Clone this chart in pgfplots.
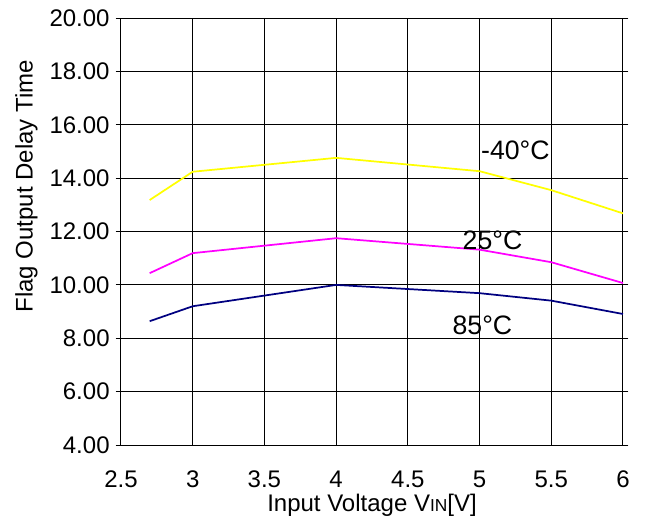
\documentclass[border=0pt]{standalone}
\usepackage{pgfplots}
\pgfplotsset{compat=1.18}
\usepackage{fontspec}
\setmainfont{Liberation Sans}
\definecolor{navyc}{RGB}{0,0,128}
\begin{document}
\begin{tikzpicture}
\begin{axis}[
  scale only axis,
  width=376.5pt, height=320.25pt,
  xmin=2.5, xmax=6, ymin=4, ymax=20,
  xtick={2.5,3,3.5,4,4.5,5,5.5,6},
  ytick={4,6,8,10,12,14,16,18,20},
  grid=major,
  grid style={black, line width=0.75pt},
  axis line style={black, line width=0.75pt},
  x tick style={draw=none},
  y tick style={black, line width=0.75pt},
  tick align=outside,
  major tick length=4pt,
  font=\fontsize{18}{21}\selectfont,
  /pgf/number format/assume math mode=true,
  xticklabel style={/pgf/number format/.cd, fixed, precision=1},
  yticklabel style={/pgf/number format/.cd, fixed, fixed zerofill, precision=2},
  xticklabel shift=12pt,
  yticklabel shift=1pt,
  xlabel={Input Voltage V{\fontsize{13}{15}\selectfont IN}[V]},
  ylabel={Flag Output Delay Time},
  xlabel style={yshift=2pt},
  ylabel style={yshift=2pt, xshift=34pt},
  clip=false,
]
\addplot[color={rgb,255:red,255;green,255;blue,0}, line width=1.3pt] coordinates {
(2.7,13.18) (3,14.24) (4,14.76) (5,14.26) (5.5,13.55) (6,12.68)};
\addplot[color={rgb,255:red,255;green,0;blue,255}, line width=1.3pt] coordinates {
(2.7,10.44) (3,11.19) (4,11.75) (5,11.32) (5.5,10.85) (6,10.07)};
\addplot[color=navyc, line width=1.3pt] coordinates {
(2.7,8.64) (3,9.20) (4,10.00) (5,9.69) (5.5,9.41) (6,8.91)};
\node[font=\fontsize{20}{24}\selectfont] at (axis cs:5.25,15.05) {-40°C};
\node[font=\fontsize{20}{24}\selectfont] at (axis cs:5.09,11.68) {25°C};
\node[font=\fontsize{20}{24}\selectfont] at (axis cs:5.02,8.49) {85°C};
\path (rel axis cs:-0.241,-0.1733) rectangle (rel axis cs:1.0518,1.0422);
\end{axis}
\end{tikzpicture}
\end{document}
